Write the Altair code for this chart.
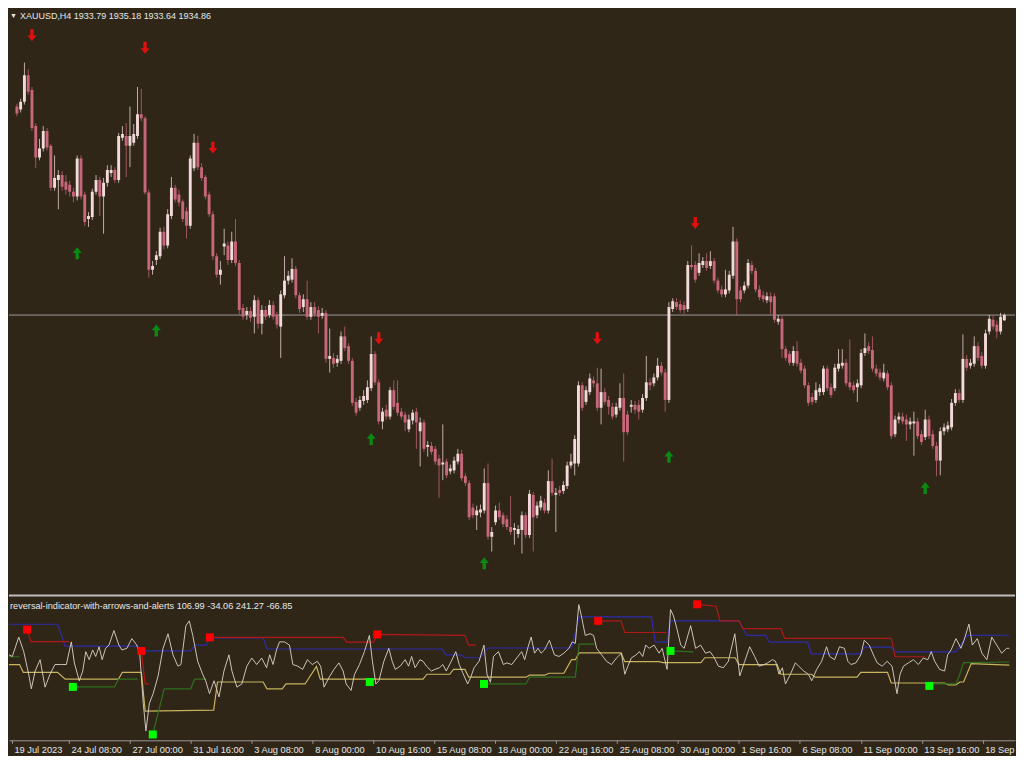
import json
import altair as alt
import numpy as np
import pandas as pd

# ---------------- price data (XAUUSD, H4) ----------------
OPEN = [
    1977.5, 1976.9, 1978.5, 1983.9, 1980.9, 1973.5, 1967.1, 1968.9, 1972.5, 1969.5,
    1960.9, 1962.5, 1963.5, 1962.1, 1961.5, 1960.1, 1959.1, 1966.9, 1959.5, 1954.5,
    1954.9, 1960.1, 1962.5, 1959.1, 1961.9, 1963.9, 1964.5, 1962.5, 1971.1, 1971.5,
    1969.5, 1970.1, 1971.5, 1975.9, 1975.1, 1959.9, 1944.1, 1946.1, 1946.9, 1951.9,
    1949.1, 1955.1, 1960.9, 1959.5, 1958.1, 1956.1, 1953.1, 1964.9, 1970.1, 1965.1,
    1963.1, 1959.5, 1955.5, 1946.9, 1943.1, 1948.9, 1949.1, 1946.1, 1949.9, 1945.5,
    1936.3, 1934.9, 1935.7, 1934.5, 1937.9, 1933.1, 1935.9, 1934.9, 1936.9, 1934.9,
    1932.5, 1938.9, 1941.9, 1942.1, 1944.3, 1938.9, 1936.5, 1938.1, 1934.5, 1936.5,
    1935.9, 1934.7, 1935.3, 1925.9, 1926.1, 1925.1, 1925.5, 1930.5, 1928.5, 1925.5,
    1917.1, 1915.9, 1917.3, 1917.5, 1919.9, 1926.9, 1921.1, 1913.1, 1915.5, 1914.1,
    1919.5, 1916.9, 1915.1, 1914.5, 1911.5, 1913.3, 1915.1, 1911.1, 1912.9, 1907.9,
    1908.1, 1907.5, 1905.5, 1904.3, 1904.9, 1902.9, 1903.1, 1904.9, 1906.5, 1901.9,
    1900.5, 1895.5, 1893.9, 1894.5, 1894.9, 1900.5, 1889.5, 1892.5, 1894.9, 1893.9,
    1893.1, 1891.5, 1890.9, 1890.1, 1890.9, 1893.9, 1889.9, 1898.1, 1893.9, 1895.5,
    1896.5, 1894.9, 1900.9, 1898.1, 1899.1, 1898.9, 1899.9, 1904.1, 1904.5, 1904.5,
    1920.5, 1917.1, 1919.1, 1921.5, 1920.9, 1915.9, 1919.1, 1917.5, 1916.1, 1914.5,
    1915.9, 1917.9, 1914.5, 1916.1, 1916.5, 1916.5, 1915.5, 1917.9, 1921.1, 1920.9,
    1922.1, 1924.5, 1923.1, 1917.5, 1936.1, 1937.5, 1937.1, 1936.9, 1936.1, 1945.1,
    1945.1, 1943.5, 1945.1, 1945.9, 1944.9, 1945.9, 1941.9, 1940.1, 1939.1, 1939.9,
    1942.9, 1949.9, 1939.9, 1939.9, 1940.9, 1945.1, 1943.9, 1940.1, 1938.9, 1937.9,
    1938.7, 1938.7, 1933.5, 1934.1, 1927.9, 1926.9, 1925.1, 1927.5, 1925.1, 1923.9,
    1920.5, 1918.1, 1917.5, 1919.1, 1919.1, 1923.9, 1920.1, 1919.9, 1923.9, 1924.5,
    1925.1, 1921.1, 1920.5, 1920.1, 1920.5, 1927.1, 1928.5, 1927.7, 1923.9, 1923.1,
    1921.9, 1922.9, 1920.5, 1910.5, 1913.5, 1914.1, 1913.5, 1912.5, 1912.7, 1913.1,
    1910.5, 1909.9, 1913.5, 1910.5, 1908.1, 1905.1, 1911.1, 1911.5, 1911.9, 1916.9,
    1918.9, 1917.5, 1925.9, 1924.5, 1924.9, 1928.5, 1926.5, 1924.5, 1931.5, 1933.9,
    1932.9, 1931.5, 1933.79,
]
HIGH = [
    1978.1, 1979.1, 1986.5, 1985.1, 1981.5, 1974.1, 1970.9, 1973.5, 1973.1, 1969.9,
    1967.5, 1964.5, 1964.3, 1963.5, 1962.3, 1960.9, 1967.5, 1967.5, 1960.1, 1955.9,
    1960.7, 1963.5, 1963.1, 1962.9, 1965.5, 1965.5, 1965.1, 1972.1, 1973.5, 1974.1,
    1977.5, 1973.9, 1981.5, 1981.1, 1975.5, 1960.5, 1945.9, 1947.9, 1952.7, 1952.9,
    1956.5, 1963.1, 1961.5, 1960.5, 1958.5, 1956.9, 1967.5, 1971.9, 1971.5, 1965.9,
    1963.5, 1960.1, 1956.1, 1947.5, 1945.9, 1952.5, 1949.9, 1951.9, 1954.5, 1946.1,
    1937.1, 1936.5, 1936.5, 1938.9, 1938.5, 1936.9, 1936.7, 1937.9, 1937.7, 1935.5,
    1939.9, 1946.9, 1943.9, 1946.5, 1944.9, 1939.5, 1939.1, 1941.9, 1937.5, 1937.5,
    1936.7, 1936.3, 1935.9, 1932.1, 1927.1, 1926.7, 1931.5, 1932.5, 1929.1, 1926.1,
    1917.9, 1918.3, 1919.5, 1921.5, 1930.5, 1927.5, 1921.7, 1915.9, 1916.5, 1920.1,
    1921.5, 1921.5, 1915.9, 1915.1, 1914.5, 1915.5, 1915.9, 1913.9, 1913.5, 1909.1,
    1908.9, 1908.1, 1906.3, 1912.5, 1905.5, 1904.3, 1905.9, 1907.5, 1907.3, 1902.5,
    1901.1, 1896.3, 1895.9, 1896.1, 1903.5, 1904.5, 1891.5, 1895.9, 1896.5, 1894.5,
    1893.9, 1897.9, 1892.3, 1891.9, 1894.7, 1894.5, 1899.1, 1898.7, 1896.7, 1897.9,
    1897.3, 1903.1, 1905.5, 1899.5, 1899.9, 1900.9, 1904.9, 1906.5, 1910.3, 1921.3,
    1921.1, 1920.3, 1922.9, 1922.3, 1924.1, 1923.9, 1919.9, 1918.3, 1916.9, 1916.9,
    1920.9, 1922.9, 1915.3, 1917.5, 1917.3, 1917.5, 1918.7, 1926.5, 1921.9, 1922.9,
    1926.1, 1925.3, 1923.9, 1937.5, 1938.3, 1938.3, 1937.9, 1937.7, 1945.9, 1949.1,
    1945.9, 1947.5, 1946.7, 1947.5, 1947.9, 1946.5, 1942.5, 1940.9, 1944.1, 1943.9,
    1952.9, 1950.5, 1940.7, 1941.7, 1946.3, 1945.9, 1944.5, 1940.9, 1939.7, 1939.5,
    1939.5, 1939.3, 1934.9, 1934.7, 1928.5, 1927.5, 1928.5, 1929.5, 1925.9, 1924.5,
    1921.1, 1918.9, 1921.1, 1920.7, 1924.5, 1924.5, 1920.9, 1924.9, 1927.9, 1927.9,
    1925.9, 1929.9, 1921.3, 1921.7, 1927.9, 1931.1, 1929.3, 1930.5, 1924.7, 1923.9,
    1924.9, 1923.5, 1921.1, 1914.3, 1914.9, 1914.9, 1914.5, 1913.9, 1915.1, 1913.9,
    1911.3, 1915.5, 1914.3, 1911.3, 1908.9, 1911.9, 1912.7, 1913.1, 1917.7, 1919.7,
    1919.7, 1930.9, 1926.7, 1925.9, 1930.5, 1929.3, 1927.3, 1931.9, 1934.9, 1934.7,
    1933.7, 1935.3, 1935.18,
]
LOW = [
    1975.5, 1976.3, 1977.9, 1979.9, 1972.5, 1964.9, 1966.5, 1968.3, 1968.5, 1960.3,
    1960.3, 1956.5, 1960.3, 1959.5, 1959.1, 1957.9, 1958.3, 1958.5, 1953.1, 1952.9,
    1954.3, 1959.5, 1955.1, 1951.5, 1961.1, 1963.1, 1961.9, 1961.9, 1970.5, 1963.1,
    1965.1, 1969.5, 1970.9, 1974.5, 1959.5, 1942.5, 1943.1, 1945.1, 1946.3, 1948.3,
    1948.5, 1954.5, 1957.9, 1957.1, 1953.9, 1950.5, 1952.5, 1964.3, 1964.5, 1962.3,
    1958.5, 1954.9, 1946.1, 1942.5, 1941.1, 1947.1, 1945.1, 1945.5, 1944.9, 1935.1,
    1933.9, 1933.9, 1933.5, 1931.1, 1932.1, 1930.9, 1933.9, 1934.3, 1933.9, 1932.1,
    1926.1, 1938.3, 1941.1, 1941.5, 1938.3, 1935.3, 1935.5, 1933.9, 1933.9, 1934.5,
    1931.1, 1934.1, 1925.1, 1923.1, 1924.1, 1924.3, 1924.9, 1927.5, 1924.9, 1916.3,
    1914.3, 1915.3, 1916.5, 1916.9, 1919.3, 1920.5, 1912.5, 1911.5, 1913.5, 1913.5,
    1915.5, 1914.3, 1913.5, 1911.1, 1910.9, 1912.5, 1907.5, 1903.9, 1906.9, 1905.9,
    1906.3, 1904.3, 1897.5, 1901.1, 1901.5, 1902.3, 1902.5, 1904.3, 1900.9, 1899.9,
    1892.9, 1893.3, 1890.9, 1893.5, 1894.3, 1888.9, 1886.5, 1891.9, 1892.9, 1891.5,
    1890.9, 1889.9, 1887.9, 1889.3, 1886.1, 1889.3, 1889.3, 1886.5, 1893.3, 1894.9,
    1894.3, 1894.3, 1897.9, 1890.5, 1897.9, 1898.3, 1899.3, 1903.5, 1902.1, 1903.9,
    1915.3, 1916.5, 1918.5, 1920.1, 1915.3, 1912.5, 1916.5, 1914.5, 1913.5, 1913.9,
    1915.3, 1904.9, 1910.3, 1914.9, 1914.7, 1913.5, 1914.9, 1917.3, 1919.5, 1920.3,
    1921.5, 1922.5, 1915.1, 1916.9, 1935.5, 1935.9, 1935.3, 1935.1, 1935.5, 1944.1,
    1941.5, 1942.9, 1944.5, 1943.9, 1944.3, 1941.3, 1939.3, 1938.5, 1938.5, 1939.3,
    1942.3, 1934.9, 1937.5, 1939.3, 1940.3, 1943.3, 1939.5, 1937.9, 1937.5, 1937.3,
    1935.1, 1933.3, 1932.9, 1926.1, 1925.5, 1924.5, 1924.5, 1924.3, 1922.9, 1919.9,
    1916.3, 1916.5, 1916.9, 1918.3, 1918.5, 1919.3, 1917.9, 1919.3, 1923.3, 1923.9,
    1920.3, 1919.5, 1918.9, 1917.1, 1919.9, 1926.5, 1926.9, 1923.3, 1922.3, 1921.5,
    1921.3, 1919.5, 1909.5, 1909.9, 1912.7, 1912.5, 1909.1, 1911.5, 1906.1, 1909.5,
    1908.3, 1909.3, 1909.5, 1907.5, 1901.9, 1902.1, 1910.3, 1910.9, 1911.3, 1916.3,
    1916.9, 1916.9, 1923.5, 1923.9, 1924.3, 1925.5, 1923.9, 1923.9, 1930.9, 1931.9,
    1930.1, 1930.9, 1933.64,
]
CLOSE = [
    1976.1, 1978.5, 1983.9, 1980.5, 1973.1, 1967.1, 1968.9, 1972.5, 1969.1, 1960.9,
    1962.9, 1963.5, 1961.1, 1960.5, 1960.1, 1959.1, 1966.9, 1959.1, 1953.9, 1955.1,
    1960.1, 1962.5, 1959.1, 1961.9, 1964.5, 1964.5, 1962.5, 1971.5, 1971.9, 1969.5,
    1971.5, 1971.9, 1975.9, 1975.1, 1959.9, 1944.1, 1944.9, 1947.1, 1951.9, 1949.1,
    1955.5, 1960.9, 1958.5, 1957.9, 1954.5, 1953.1, 1966.9, 1970.1, 1965.1, 1962.9,
    1959.1, 1955.5, 1946.9, 1943.1, 1944.1, 1949.5, 1946.1, 1949.9, 1945.5, 1935.9,
    1934.5, 1935.7, 1934.3, 1937.9, 1933.1, 1935.9, 1934.5, 1936.9, 1934.5, 1932.9,
    1939.1, 1941.9, 1942.9, 1944.3, 1938.9, 1936.1, 1938.1, 1934.5, 1936.5, 1935.1,
    1934.5, 1935.3, 1925.9, 1926.5, 1924.9, 1925.9, 1930.5, 1928.1, 1925.5, 1916.9,
    1914.9, 1917.5, 1918.3, 1920.1, 1926.9, 1921.1, 1913.1, 1915.1, 1914.1, 1919.5,
    1916.1, 1914.9, 1914.1, 1912.9, 1913.5, 1914.9, 1912.9, 1912.9, 1907.5, 1908.3,
    1906.9, 1904.9, 1904.1, 1904.7, 1902.1, 1903.5, 1905.1, 1906.5, 1901.5, 1900.5,
    1893.5, 1893.9, 1894.9, 1895.1, 1900.5, 1889.5, 1890.5, 1894.9, 1893.5, 1892.1,
    1891.5, 1890.5, 1891.3, 1891.1, 1893.9, 1889.9, 1898.3, 1893.5, 1895.9, 1896.9,
    1894.9, 1900.9, 1898.5, 1898.5, 1898.5, 1900.1, 1904.1, 1904.9, 1909.5, 1920.5,
    1915.9, 1919.5, 1921.9, 1920.9, 1915.9, 1919.1, 1917.1, 1916.1, 1914.1, 1916.1,
    1917.9, 1910.9, 1910.9, 1916.5, 1915.5, 1915.1, 1917.9, 1921.1, 1920.5, 1922.1,
    1924.5, 1923.1, 1917.5, 1936.5, 1937.7, 1936.5, 1935.9, 1935.9, 1945.1, 1944.7,
    1942.1, 1945.5, 1945.9, 1944.5, 1945.9, 1941.9, 1939.9, 1939.1, 1940.1, 1943.1,
    1949.9, 1938.1, 1938.1, 1940.9, 1945.5, 1943.9, 1940.1, 1938.5, 1938.1, 1938.7,
    1937.5, 1933.9, 1934.1, 1927.9, 1926.1, 1925.1, 1927.5, 1924.9, 1923.5, 1920.5,
    1916.9, 1917.1, 1919.5, 1919.9, 1923.9, 1919.9, 1918.5, 1924.1, 1924.9, 1925.1,
    1920.9, 1920.1, 1919.5, 1920.9, 1927.1, 1928.1, 1927.5, 1923.9, 1922.9, 1922.1,
    1923.1, 1920.1, 1910.1, 1913.5, 1914.1, 1913.1, 1912.5, 1913.1, 1913.1, 1910.1,
    1908.9, 1913.5, 1910.1, 1908.1, 1905.1, 1911.1, 1911.9, 1912.3, 1916.9, 1918.9,
    1917.5, 1925.9, 1924.1, 1925.1, 1928.5, 1926.1, 1924.5, 1931.1, 1934.1, 1932.5,
    1931.5, 1934.5, 1934.86,
]
LAST_PRICE = 1934.86
HEADER = "XAUUSD,H4  1933.79 1935.18 1933.64 1934.86"

# reversal arrows on the price chart
SELL_BARS = [4, 34, 52, 96, 154, 180]
SELL_PRICE = [1992.1, 1989.5, 1969.1, 1930.1, 1930.1, 1953.7]
BUY_BARS = [16, 37, 94, 124, 173, 241]
BUY_PRICE = [1947.5, 1931.7, 1909.5, 1884.1, 1905.9, 1899.5]

# ---------------- indicator window ----------------
IND_LABEL = "reversal-indicator-with-arrows-and-alerts 106.99 -34.06 241.27 -66.85"

OSC_BAR = [
    -0.8, 0.1, 1.8, 3.1, 4.4, 5.1, 6.1, 7.4, 8.7, 10.0, 11.3, 13.0, 14.3, 15.6, 16.4, 17.7,
    18.6, 19.4, 20.3, 21.2, 22.0, 22.9, 23.7, 24.6, 25.5, 26.8, 28.1, 28.9, 30.2, 31.5, 32.8,
    33.6, 34.5, 35.2, 36.1, 37.1, 38.4, 39.7, 41.0, 42.3, 43.6, 44.4, 45.7, 46.6, 47.5, 48.8,
    50.1, 50.9, 51.9, 53.1, 54.4, 55.7, 57.0, 57.8, 59.1, 60.4, 61.7, 63.0, 64.3, 65.6, 66.9,
    67.7, 68.6, 69.5, 70.3, 71.6, 72.9, 73.8, 75.1, 76.4, 77.6, 78.9, 80.2, 81.1, 82.0, 83.3,
    84.6, 85.9,
    87.0, 87.8, 89.1, 90.0, 91.3, 92.6, 93.9, 94.7, 95.6, 96.4, 97.7, 99.0, 99.9, 100.7, 102.0,
    103.3, 104.2, 105.0, 105.9, 107.2, 108.0, 108.9, 110.2, 111.1, 112.3, 113.2, 114.1, 115.4,
    116.6, 117.5, 118.4, 119.7, 120.5, 121.4, 122.7, 124.0, 124.8, 125.7, 126.5, 127.8, 129.1,
    130.0, 131.3, 132.6, 133.9, 134.7, 135.6, 136.4, 137.3, 138.2, 139.0, 139.9, 141.2, 142.5,
    143.7, 145.0, 146.3, 147.2, 148.0, 148.9, 149.6, 150.6, 151.9, 152.8, 153.6, 154.9, 156.2,
    157.5, 158.8, 160.1, 161.0, 161.8, 162.7, 164.0, 164.8, 165.7, 166.5, 167.4, 168.7, 170.0,
    170.8, 172.1, 173.0, 173.8, 174.7,
    175.7, 176.6, 178.3, 179.6, 180.9, 182.2, 183.4, 184.3, 185.6, 186.9, 188.2, 189.9, 191.2,
    192.5, 193.8, 195.1, 196.3, 197.6, 198.5, 199.8, 200.6, 201.5, 202.4, 203.2, 204.5, 205.8,
    206.7, 208.0, 209.2, 210.1, 211.4, 212.7, 214.0, 214.8, 216.1, 217.4, 218.7, 219.6, 220.4,
    221.7, 223.0, 223.9, 225.2, 226.5, 227.3, 228.6, 229.9, 231.2, 232.5, 233.3, 234.2, 235.5,
    236.8, 238.1, 239.4, 240.6, 241.5, 242.4, 243.7, 245.0, 245.8, 246.7, 248.0, 249.3, 250.1,
    251.4, 252.3, 253.6, 254.8, 256.1, 257.4, 258.7, 260.0, 261.3, 262.0,
]
OSC_VAL = [
    40, 23, 223, 73, -160, -310, -127, -10, -293, -160, -60, -60, -60, 173, -43, -227,
    -127, 73, -10, 90, 23, 123, -10, 107, 140, 290, 140, 90, 107, 207, 140,
    40, -460, -743, -460, -360, -177, 107, 257, 40, -77, -60, 340, 390, 240, -27,
    -160, -227, -360, -227, -393, -127, 40, -127, -293, -260, -77, 7, -60, 7, -93,
    40, -60, 90, 173, 173, 140, -60, -77, -110, -10, -60, -27, -77, -293, -193,
    -110, -43,
    -127, -260, -327, -160, -60, 73, 240, -27, -260, -227, -27, 107, -27, -110, -77,
    -10, -77, 23, -93, -10, -27, -77, -127, -110, -93, -60, -127, -27,
    73, -60, -143, -260, -193, -93, -27, 140, -160, -243, 23, 73, -60,
    -43, -60, 7, 73, -10, 123, 223, 57, 107, 57, 90, 190, 40,
    23, 57, 107, 173, 157, 557, 440, 240, 257, 240, 107, 40, -27,
    -60, 7, 57, -160, -77, 7, 40, 73, 23, 140, 107, 140, 57,
    107, -110, 507, 440, 307,
    140, 107, 340, 107, 140, 57, 73, 23, -77, -93, -27, 257, -177,
    -27, 123, 23, -77, -60, -43, -10, -27, -160, -93, -260, -160, -43,
    -77, -127, -160, -227, -110, -27, 123, 23, -10, 123, 107, -27, -60,
    -43, 40, 190, 140, 23, -43, -77, -27, -77, -360, -160, -77, -43,
    -10, -60, 7, -10, 73, -27, -110, -127, 40, 90, 207, 107, 190,
    357, 140, 207, 57, -10, 223, 140, 57, 107, 106.99,
]

BLUE_BAR = [-0.8, 12, 14, 33, 34, 47, 48, 51, 52, 66, 67, 113, 114, 118, 119, 123, 125, 147,
            149, 168, 169, 172, 173, 191, 193, 198, 199, 209, 210, 223, 224, 231, 232, 248,
            251, 262]
BLUE_VAL = [355, 355, 130, 130, 80, 80, 140, 140, 215, 215, 100, 100, 40, 40, 10, 10, 110, 110,
            430, 430, 170, 170, 390, 390, 240, 240, 170, 170, 50, 50, 120, 120, 70, 70,
            240, 241.27]

RED_SEG = [1, 1, 1, 2, 2, 2, 3, 3, 3, 3, 3, 3, 3, 3, 4, 4, 4, 4,
           5, 5, 5, 5, 5, 5, 5, 5, 5, 5]
RED_BAR = [4, 5, 15, 34, 35, 36, 52, 87, 88, 95, 96, 119, 120, 122, 154, 160, 161, 172,
           180, 185, 186, 191, 192, 202, 203, 231, 232, 240]
RED_VAL = [300, 175, 175, 80, -260, -260, 220, 220, 170, 170, 250, 240, 140, 140, 390, 390, 270, 270,
           560, 540, 390, 390, 310, 310, 210, 210, 20, 20]

YEL_BAR = [-0.8, 2, 3, 12, 14, 28, 29, 34, 35, 53, 54, 66, 67, 71, 72, 77, 80, 81, 108, 109,
           115, 116, 119, 120, 135, 136, 140, 141, 145, 147, 148, 149, 160, 161, 170, 171,
           181, 182, 190, 191, 201, 202, 210, 211, 222, 223, 230, 231, 245, 246, 248, 249,
           250, 252, 262]
YEL_VAL = [-60, -60, -140, -140, -210, -210, -140, -140, -540, -530, -240, -240, -310, -310,
           -260, -260, -80, -210, -210, -160, -160, -110, -110, -190, -190, -170, -170, -150,
           -150, -10, -10, 60, 60, -30, -30, -40, -40, 10, 10, -60, -60, -160, -160, -190,
           -190, -140, -140, -250, -250, -270, -270, -240, -240, -50, -66.85]

GRN_SEG = [1, 1, 2, 2, 2, 2, 3, 3, 3, 3, 3, 4, 4, 4, 4, 4, 4, 5, 5, 6, 6, 6, 6, 6]
GRN_BAR = [-0.8, 2, 16, 27, 28, 33, 37, 40, 47, 48, 51, 124, 135, 136, 148, 149, 153,
           173, 179, 241, 248, 249, 250, 262]
GRN_VAL = [20, 20, -290, -290, -210, -210, -780, -310, -310, -210, -210, -260, -260, -190,
           -190, 150, 150, 80, 70, -260, -260, -160, -40, -34.06]

RED_SQ_BAR = [4, 34, 52, 96, 154, 180]
RED_SQ_VAL = [300, 80, 220, 250, 390, 560]
GRN_SQ_BAR = [16, 37, 94, 124, 173, 241]
GRN_SQ_VAL = [-290, -780, -240, -260, 80, -280]

TICK_BARS = [0, 15, 31, 47, 63, 79, 95, 111, 127, 143, 159, 175, 191, 207, 223, 239, 255]
TICK_LABELS = ["19 Jul 2023", "24 Jul 08:00", "27 Jul 00:00", "31 Jul 16:00", "3 Aug 08:00",
               "8 Aug 00:00", "10 Aug 16:00", "15 Aug 08:00", "18 Aug 00:00", "22 Aug 16:00",
               "25 Aug 08:00", "30 Aug 00:00", "1 Sep 16:00", "6 Sep 08:00", "11 Sep 00:00",
               "13 Sep 16:00", "18 Sep"]

# ---------------- styling ----------------
BG = "#2f2618"
UP_COL = "#f3dada"
DN_COL = "#c8667a"
FONT = "Liberation Sans, Arial"
W = 1008
H_TOP = 587
H_BOT = 145
X_DOM = [-0.77, 263.5]
xs = alt.Scale(domain=X_DOM, nice=False, zero=False)
ys_top = alt.Scale(domain=[1877.7, 1997.5], nice=False, zero=False)
ys_bot = alt.Scale(domain=[-840, 650], nice=False, zero=False)

DOWN_PATH = "M-0.28,-1 L0.28,-1 L0.28,0.05 L0.75,0.05 L0,1 L-0.75,0.05 L-0.28,0.05 Z"
UP_PATH = "M-0.28,1 L0.28,1 L0.28,-0.05 L0.75,-0.05 L0,-1 L-0.75,-0.05 L-0.28,-0.05 Z"

# ---------------- frames ----------------
candles = pd.DataFrame({"bar": np.arange(len(OPEN)), "open": OPEN, "high": HIGH,
                        "low": LOW, "close": CLOSE})
candles["dir"] = np.where(candles["close"] >= candles["open"], "up", "down")
dir_scale = alt.Scale(domain=["up", "down"], range=[UP_COL, DN_COL])

sell = pd.DataFrame({"bar": SELL_BARS, "price": SELL_PRICE})
buy = pd.DataFrame({"bar": BUY_BARS, "price": BUY_PRICE})
last = pd.DataFrame({"price": [LAST_PRICE]})
header = pd.DataFrame({"t": [HEADER]})
tri = pd.DataFrame({"t": ["\u25bc"]})

X = alt.X("bar:Q", scale=xs, axis=None)

price_line = alt.Chart(last).mark_rule(color="#9c9c9c", strokeWidth=1).encode(
    y=alt.Y("price:Q", scale=ys_top, axis=None))
wicks = alt.Chart(candles).mark_rule(strokeWidth=1, opacity=0.75, clip=True).encode(
    x=X, y=alt.Y("low:Q", scale=ys_top, axis=None), y2="high:Q",
    color=alt.Color("dir:N", scale=dir_scale, legend=None))
bodies = alt.Chart(candles).mark_bar(size=2.9, clip=True).encode(
    x=X, y=alt.Y("open:Q", scale=ys_top, axis=None), y2="close:Q",
    color=alt.Color("dir:N", scale=dir_scale, legend=None))
sell_ar = alt.Chart(sell).mark_point(shape=DOWN_PATH, size=144, filled=True, opacity=1,
                                     color="#e01010", strokeWidth=0).encode(
    x=X, y=alt.Y("price:Q", scale=ys_top, axis=None))
buy_ar = alt.Chart(buy).mark_point(shape=UP_PATH, size=144, filled=True, opacity=1,
                                   color="#0b8a12", strokeWidth=0).encode(
    x=X, y=alt.Y("price:Q", scale=ys_top, axis=None))
head_t = alt.Chart(header).mark_text(align="left", baseline="middle", font=FONT, fontSize=9,
                                     color="#e6e6e6").encode(
    x=alt.value(11), y=alt.value(7), text="t:N")
tri_t = alt.Chart(tri).mark_text(align="left", baseline="middle", fontSize=7,
                                 color="#e6e6e6").encode(
    x=alt.value(1), y=alt.value(7), text="t:N")

top = alt.layer(price_line, wicks, bodies, sell_ar, buy_ar, head_t, tri_t).properties(
    width=W, height=H_TOP)

# indicator panel
osc = pd.DataFrame({"bar": OSC_BAR, "v": OSC_VAL})
blue = pd.DataFrame({"bar": BLUE_BAR, "v": BLUE_VAL})
red = pd.DataFrame({"seg": RED_SEG, "bar": RED_BAR, "v": RED_VAL})
yel = pd.DataFrame({"bar": YEL_BAR, "v": YEL_VAL})
grn = pd.DataFrame({"seg": GRN_SEG, "bar": GRN_BAR, "v": GRN_VAL})
rsq = pd.DataFrame({"bar": RED_SQ_BAR, "v": RED_SQ_VAL})
gsq = pd.DataFrame({"bar": GRN_SQ_BAR, "v": GRN_SQ_VAL})
lab = pd.DataFrame({"t": [IND_LABEL]})
sep = pd.DataFrame({"a": [0]})

label_expr = f"{json.dumps(TICK_LABELS)}[indexof({json.dumps(TICK_BARS)}, datum.value)]"
XB = alt.X("bar:Q", scale=xs, axis=alt.Axis(
    values=TICK_BARS, labelExpr=label_expr, title=None, grid=False,
    domainColor="#9a9a9a", tickColor="#9a9a9a", tickSize=3, labelColor="#e6e6e6",
    labelFont=FONT, labelFontSize=9.3, labelAlign="left", labelBaseline="top",
    labelPadding=2, labelOffset=2, labelOverlap=False))
YB = alt.Y("v:Q", scale=ys_bot, axis=None)

l_blue = alt.Chart(blue).mark_line(color="#2c2ca8", strokeWidth=1.2, clip=True).encode(x=XB, y=YB)
l_red = alt.Chart(red).mark_line(color="#b01818", strokeWidth=1.2, clip=True).encode(
    x=XB, y=YB, detail="seg:N")
l_yel = alt.Chart(yel).mark_line(color="#c8b45c", strokeWidth=1.2, clip=True).encode(x=XB, y=YB)
l_grn = alt.Chart(grn).mark_line(color="#2f6f1f", strokeWidth=1.2, clip=True).encode(
    x=XB, y=YB, detail="seg:N")
l_osc = alt.Chart(osc).mark_line(color="#ddd5c8", strokeWidth=1, opacity=0.9, clip=True).encode(
    x=XB, y=YB)
p_rsq = alt.Chart(rsq).mark_square(size=64, color="#ff0000", opacity=1).encode(x=XB, y=YB)
p_gsq = alt.Chart(gsq).mark_square(size=64, color="#00ff00", opacity=1).encode(x=XB, y=YB)
sep_r = alt.Chart(sep).mark_rule(color="#bdbdbd", strokeWidth=2).encode(
    x=alt.value(0), x2=alt.value(W), y=alt.value(0))
lab_t = alt.Chart(lab).mark_text(align="left", baseline="middle", font=FONT, fontSize=9.2,
                                 color="#e6e6e6").encode(
    x=alt.value(1), y=alt.value(10), text="t:N")

bottom = alt.layer(l_blue, l_red, l_yel, l_grn, l_osc, p_rsq, p_gsq, sep_r, lab_t).properties(
    width=W, height=H_BOT)

chart = alt.vconcat(top, bottom, spacing=0).resolve_scale(x="independent").properties(
    padding={"left": 0, "top": 0, "right": 0, "bottom": 0}, background=BG
).configure_view(stroke=None)

chart.save("out.html", embed_options={"renderer": "svg", "actions": False})
